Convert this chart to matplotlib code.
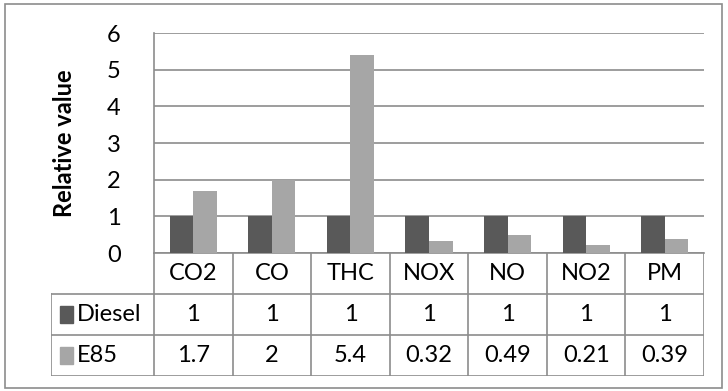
import matplotlib
matplotlib.use("Agg")
import matplotlib.pyplot as plt
from matplotlib.patches import Rectangle

plt.rcParams['font.family'] = ['Lato', 'DejaVu Sans']

# datos
categorias = ["CO2", "CO", "THC", "NOX", "NO", "NO2", "PM"]
diesel = [1, 1, 1, 1, 1, 1, 1]
e85 = [1.7, 2, 5.4, 0.32, 0.49, 0.21, 0.39]
series = ["Diesel", "E85"]
etiquetas_e85 = ["1.7", "2", "5.4", "0.32", "0.49", "0.21", "0.39"]
etiquetas_diesel = ["1", "1", "1", "1", "1", "1", "1"]

col_diesel = "#595959"
col_e85 = "#a6a6a6"
gris = "#8c8c8c"
fs = 17

W, H = 728, 391
fig = plt.figure(figsize=(W / 100, H / 100), dpi=100)

# marco exterior
fig.patches.append(Rectangle((5 / W, 1 - 388 / H), 717 / W, 384 / H,
                             transform=fig.transFigure, fill=False,
                             edgecolor=gris, lw=1.2))

# area del grafico
x0, x1 = 154, 704
y_top, y0 = 33, 253
ax = fig.add_axes([x0 / W, 1 - y0 / H, (x1 - x0) / W, (y0 - y_top) / H])
n = len(categorias)
x = list(range(n))
ancho = 0.3
ax.bar([i - ancho / 2 for i in x], diesel, ancho, color=col_diesel, zorder=3)
ax.bar([i + ancho / 2 for i in x], e85, ancho, color=col_e85, zorder=3)
ax.set_xlim(-0.5, n - 0.5)
ax.set_ylim(0, 6)
ax.set_yticks(range(7))
ax.yaxis.grid(True, color=gris, lw=1.2)
ax.set_axisbelow(True)
ax.set_xticks([])
ax.tick_params(axis='y', length=0, labelsize=fs, pad=24)
for s in ["top", "right"]:
    ax.spines[s].set_visible(False)
for s in ["left", "bottom"]:
    ax.spines[s].set_color(gris)
    ax.spines[s].set_linewidth(1.2)
ax.set_ylabel("Relative value", fontsize=fs, fontweight="bold", labelpad=22)

# tabla de datos
tx0, ty1 = 51, 376
cab = (x0 - tx0) / ((x1 - x0) / n)
axt = fig.add_axes([tx0 / W, 1 - ty1 / H, (x1 - tx0) / W, (ty1 - y0) / H])
axt.set_xlim(-0.5 - cab, n - 0.5)
axt.set_ylim(3, 0)
axt.axis("off")

lw = 1.2
for i in range(n + 1):
    axt.plot([i - 0.5, i - 0.5], [0, 3], color=gris, lw=lw)
for j in [1, 2, 3]:
    axt.plot([-0.5 - cab, n - 0.5], [j, j], color=gris, lw=lw)
axt.plot([-0.5 - cab, -0.5 - cab], [1, 3], color=gris, lw=lw)

for i, c in enumerate(categorias):
    axt.text(i, 0.5, c, ha="center", va="center", fontsize=fs)
    axt.text(i, 1.5, etiquetas_diesel[i], ha="center", va="center", fontsize=fs)
    axt.text(i, 2.5, etiquetas_e85[i], ha="center", va="center", fontsize=fs)

for j, (nombre, col) in enumerate(zip(series, [col_diesel, col_e85])):
    axt.add_patch(Rectangle((-0.5 - cab + 0.115, 1 + j + 0.3), 0.165, 0.4,
                            color=col))
    axt.text(-0.5 - cab + 0.33, 1.5 + j, nombre, ha="left", va="center",
             fontsize=fs)

fig.savefig("out.png", dpi=100)
